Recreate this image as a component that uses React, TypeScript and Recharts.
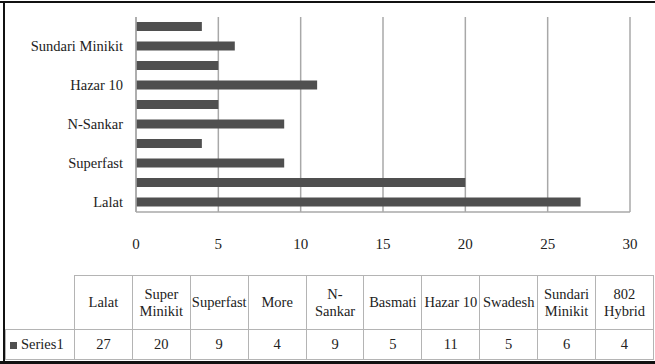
import { BarChart, Bar, XAxis, YAxis, CartesianGrid } from "recharts";

// Rice varieties and their counts (Series1)
const categories = [
  "Lalat",
  "Super Minikit",
  "Superfast",
  "More",
  "N-Sankar",
  "Basmati",
  "Hazar 10",
  "Swadesh",
  "Sundari Minikit",
  "802 Hybrid",
];
const series1 = [27, 20, 9, 4, 9, 5, 11, 5, 6, 4];
const xTicks = [0, 5, 10, 15, 20, 25, 30];
// how the table header wraps each category
const headerLines = [
  ["Lalat"],
  ["Super", "Minikit"],
  ["Superfast"],
  ["More"],
  ["N-", "Sankar"],
  ["Basmati"],
  ["Hazar 10"],
  ["Swadesh"],
  ["Sundari", "Minikit"],
  ["802", "Hybrid"],
];

const BAR = "#4f4f4f";
const GRID = "#a8a8a8";
const FONT = "Liberation Serif, DejaVu Serif, serif";
const CELL_BORDER = "1.5px solid #b4b4b4";

const data = categories.map((name, i) => ({ name, Series1: series1[i] }));

const App = () => {
  return (
    <div style={{ position: "absolute", left: 0, top: 0, width: 655, height: 364, background: "#fff", fontFamily: FONT }}>
      {/* black frame: top, left, bottom */}
      <div style={{ position: "absolute", left: 0, top: 1, width: 655, height: 2, background: "#111" }} />
      <div style={{ position: "absolute", left: 3, top: 1, width: 2, height: 362, background: "#111" }} />
      <div style={{ position: "absolute", left: 0, top: 361, width: 655, height: 3, background: "#111" }} />

      <div style={{ position: "absolute", left: 0, top: 0 }}>
        <BarChart
          width={655}
          height={262}
          data={data}
          layout="vertical"
          margin={{ top: 17, right: 25, bottom: 0, left: 0 }}
          barSize={9}
          style={{ fontFamily: FONT }}
        >
          <CartesianGrid horizontal={false} vertical stroke={GRID} strokeWidth={1.5} />
          <XAxis
            type="number"
            domain={[0, 30]}
            ticks={xTicks}
            height={50}
            axisLine={{ stroke: GRID, strokeWidth: 1.5 }}
            tickLine={false}
            tickSize={0}
            tickMargin={26}
            tick={{ fill: "#222", fontSize: 15, fontFamily: FONT }}
          />
          <YAxis
            type="category"
            dataKey="name"
            reversed
            interval={1}
            width={136}
            axisLine={{ stroke: GRID, strokeWidth: 1.5 }}
            tickLine={false}
            tickSize={0}
            tickMargin={13}
            tick={{ fill: "#222", fontSize: 14.5, fontFamily: FONT }}
          />
          <Bar dataKey="Series1" fill={BAR} isAnimationActive={false} />
        </BarChart>
      </div>

      {/* data table under the chart */}
      <table
        style={{
          position: "absolute",
          left: 5,
          top: 275,
          width: 648,
          borderCollapse: "collapse",
          tableLayout: "fixed",
          fontFamily: FONT,
          fontSize: 14.5,
          color: "#222",
          textAlign: "center",
        }}
      >
        <colgroup>
          <col style={{ width: 69 }} />
          {categories.map((c) => (
            <col key={c} style={{ width: 57.9 }} />
          ))}
        </colgroup>
        <tbody>
          <tr style={{ height: 54 }}>
            <td style={{ border: "none" }} />
            {headerLines.map((lines, i) => (
              <td key={i} style={{ border: CELL_BORDER, padding: 0, lineHeight: "17px", whiteSpace: "nowrap" }}>
                {lines.map((l, j) => (
                  <div key={j}>{l}</div>
                ))}
              </td>
            ))}
          </tr>
          <tr style={{ height: 30 }}>
            <td style={{ border: CELL_BORDER, padding: 0, textAlign: "left", paddingLeft: 4, whiteSpace: "nowrap" }}>
              <span style={{ display: "inline-block", width: 7, height: 7, background: BAR, marginRight: 4, verticalAlign: "middle" }} />
              Series1
            </td>
            {series1.map((v, i) => (
              <td key={i} style={{ border: CELL_BORDER, padding: 0 }}>
                {v}
              </td>
            ))}
          </tr>
        </tbody>
      </table>
    </div>
  );
};

export default App;
